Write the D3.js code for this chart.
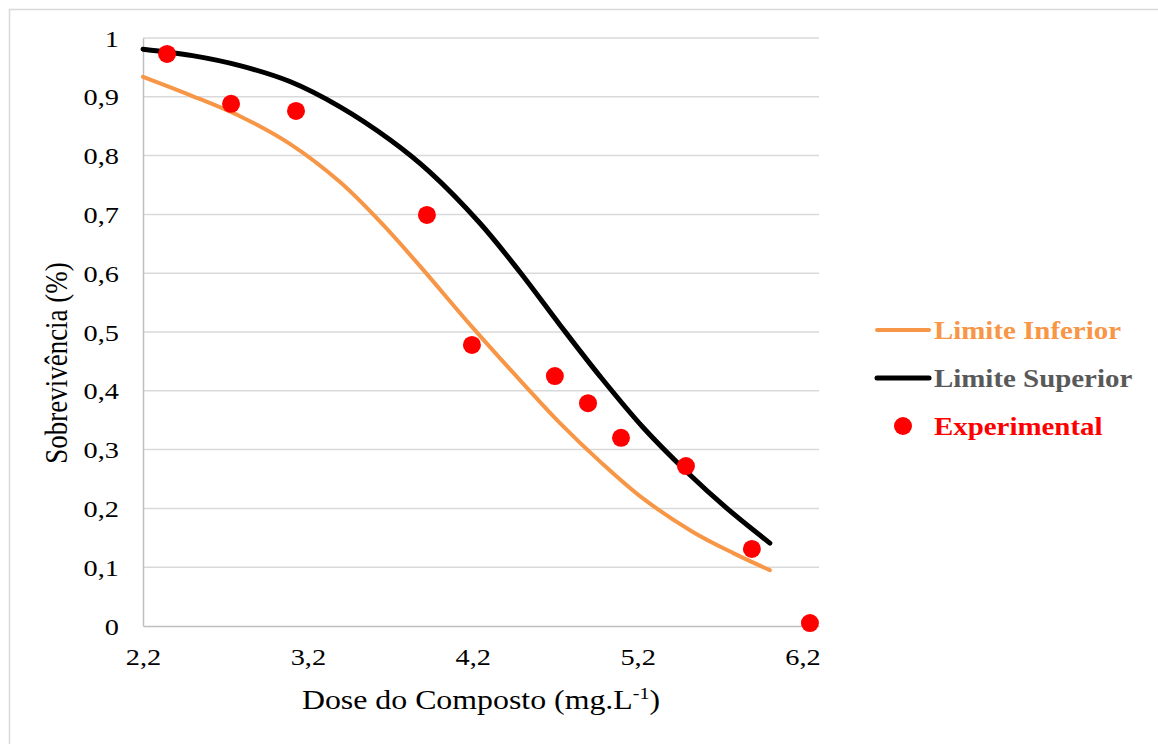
<!DOCTYPE html>
<html>
<head>
<meta charset="utf-8">
<script src="https://cdn.jsdelivr.net/npm/d3@7"></script>
<style>
  html, body { margin: 0; padding: 0; background: #fff; }
  svg, svg text { font-family: "Liberation Serif", "Times New Roman", serif !important; }
</style>
</head>
<body>
<svg id="chart" width="1158" height="744"></svg>
<script>
// Chart data
const seriesNames = ["Limite Inferior", "Limite Superior", "Experimental"];

// Experimental points
const expDose = [2.346, 2.734, 3.128, 3.922, 4.195, 4.698, 4.899, 5.099, 5.493, 5.893, 6.245];
const expSurv = [0.973, 0.888, 0.876, 0.699, 0.478, 0.425, 0.379, 0.320, 0.272, 0.131, 0.005];

// Lower limit curve
const infDose = [2.2, 2.485, 2.788, 3.091, 3.395, 3.637, 3.880, 4.201, 4.529, 4.729, 4.971, 5.232, 5.535, 5.78, 6.002];
const infSurv = [0.934, 0.903, 0.867, 0.820, 0.755, 0.688, 0.612, 0.507, 0.405, 0.345, 0.280, 0.217, 0.160, 0.124, 0.095];

// Upper limit curve
const supDose = [2.2, 2.5, 2.788, 3.091, 3.395, 3.698, 3.940, 4.244, 4.486, 4.729, 4.971, 5.232, 5.499, 5.742, 6.002];
const supSurv = [0.981, 0.970, 0.953, 0.926, 0.883, 0.827, 0.772, 0.685, 0.602, 0.512, 0.425, 0.338, 0.262, 0.200, 0.141];

const xTicks = [2.2, 3.2, 4.2, 5.2, 6.2];
const yTicks = [0, 0.1, 0.2, 0.3, 0.4, 0.5, 0.6, 0.7, 0.8, 0.9, 1];

const colors = { inf: "#f79646", sup: "#000000", exp: "#ff0000" };
const stretch = 1.18; // text in the reference is a bit wide

const locale = d3.formatLocale({ decimal: ",", thousands: ".", grouping: [3], currency: ["", ""] });
const fmt = locale.format("~g");

const svg = d3.select("#chart");

// outer frame
svg.append("rect")
  .attr("x", 9.5).attr("y", 9.5)
  .attr("width", 1160).attr("height", 760)
  .attr("fill", "#fff")
  .attr("stroke", "#d9d9d9")
  .attr("stroke-width", 1.5);

const plot = { left: 143, right: 819, top: 38, bottom: 626 };

const x = d3.scaleLinear().domain([2.2, 6.3]).range([plot.left, plot.right]);
const y = d3.scaleLinear().domain([0, 1]).range([plot.bottom, plot.top]);

// gridlines
svg.append("g")
  .selectAll("line")
  .data(yTicks.filter((d) => d > 0))
  .join("line")
  .attr("x1", plot.left).attr("x2", plot.right)
  .attr("y1", (d) => y(d)).attr("y2", (d) => y(d))
  .attr("stroke", "#d9d9d9")
  .attr("stroke-width", 1.5);

// axes
const yAxis = svg.append("g")
  .attr("transform", `translate(${plot.left},0)`)
  .call(d3.axisLeft(y).tickValues(yTicks).tickSize(0).tickFormat(fmt))
  .attr("font-family", null)
  .attr("font-size", null);
yAxis.select(".domain").attr("stroke", "#bfbfbf").attr("stroke-width", 1.5);
yAxis.selectAll("text")
  .attr("x", null).attr("dy", null)
  .attr("transform", `translate(-24,8) scale(${stretch},1)`)
  .style("font-size", "24px")
  .attr("fill", "#000");

const xAxis = svg.append("g")
  .attr("transform", `translate(0,${plot.bottom})`)
  .call(d3.axisBottom(x).tickValues(xTicks).tickSize(0).tickFormat(fmt))
  .attr("font-family", null)
  .attr("font-size", null);
xAxis.select(".domain").attr("stroke", "#bfbfbf").attr("stroke-width", 1.5);
xAxis.selectAll("text")
  .attr("y", null).attr("dy", null)
  .attr("transform", `translate(0,39) scale(${stretch},1)`)
  .style("font-size", "24px")
  .attr("fill", "#000");

// axis titles
const xTitle = svg.append("text")
  .attr("transform", `translate(481,709) scale(${stretch},1)`)
  .attr("text-anchor", "middle")
  .attr("font-size", 27)
  .attr("fill", "#000");
xTitle.append("tspan").text("Dose do Composto (mg.L");
xTitle.append("tspan").attr("dy", -10).attr("font-size", 17).text("-1");
xTitle.append("tspan").attr("dy", 10).text(")");

svg.append("text")
  .attr("transform", `translate(67,363) scale(${stretch},1) rotate(-90)`)
  .attr("text-anchor", "middle")
  .attr("font-size", 27)
  .attr("fill", "#000")
  .text("Sobrevivência (%)");

// curves
const line = d3.line()
  .x((d) => x(d[0]))
  .y((d) => y(d[1]))
  .curve(d3.curveCatmullRom.alpha(0.5));

svg.append("path")
  .datum(d3.zip(infDose, infSurv))
  .attr("d", line)
  .attr("fill", "none")
  .attr("stroke", colors.inf)
  .attr("stroke-width", 4)
  .attr("stroke-linecap", "round");

svg.append("path")
  .datum(d3.zip(supDose, supSurv))
  .attr("d", line)
  .attr("fill", "none")
  .attr("stroke", colors.sup)
  .attr("stroke-width", 5)
  .attr("stroke-linecap", "round");

// experimental points
svg.append("g")
  .selectAll("circle")
  .data(d3.zip(expDose, expSurv))
  .join("circle")
  .attr("cx", (d) => x(d[0]))
  .attr("cy", (d) => y(d[1]))
  .attr("r", 9)
  .attr("fill", colors.exp);

// legend
const legendItems = [
  { name: seriesNames[0], type: "line", color: colors.inf, text: "#f79646", w: 4 },
  { name: seriesNames[1], type: "line", color: colors.sup, text: "#595959", w: 5 },
  { name: seriesNames[2], type: "dot", color: colors.exp, text: "#ff0000" },
];

const legend = svg.append("g")
  .selectAll("g")
  .data(legendItems)
  .join("g")
  .attr("transform", (d, i) => `translate(0,${330 + i * 48})`);

legend.filter((d) => d.type === "line")
  .append("line")
  .attr("x1", 877).attr("x2", 929)
  .attr("stroke", (d) => d.color)
  .attr("stroke-width", (d) => d.w)
  .attr("stroke-linecap", "round");

legend.filter((d) => d.type === "dot")
  .append("circle")
  .attr("cx", 903).attr("cy", 0).attr("r", 9)
  .attr("fill", (d) => d.color);

legend.append("text")
  .attr("transform", `translate(934,9) scale(${stretch},1)`)
  .attr("font-size", 24.5)
  .attr("font-weight", "bold")
  .attr("fill", (d) => d.text)
  .text((d) => d.name);
</script>
</body>
</html>
